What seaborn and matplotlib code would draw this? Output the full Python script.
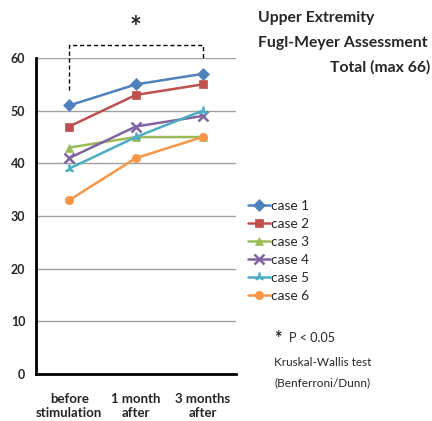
import pandas as pd
import seaborn as sns
import matplotlib.pyplot as plt
import numpy as np

# Data
timepoints = ['before\nstimulation', '1 month\nafter', '3 months\nafter']
cases = ['case 1', 'case 2', 'case 3', 'case 4', 'case 5', 'case 6']
case1 = [51, 55, 57]
case2 = [47, 53, 55]
case3 = [43, 45, 45]
case4 = [41, 47, 49]
case5 = [39, 45, 50]
case6 = [33, 41, 45]

colors = ['#4F81BD', '#C0504D', '#9BBB59', '#8064A2', '#4BACC6', '#F79646']
markers = ['D', 's', '^', 'x', '2', 'o']

rows = []
for name, vals in zip(cases, [case1, case2, case3, case4, case5, case6]):
    for i, v in enumerate(vals):
        rows.append({'case': name, 'pos': i, 'score': v})
df = pd.DataFrame(rows)

sns.set_style('white')
plt.rcParams['font.family'] = ['Lato', 'DejaVu Sans']

fig = plt.figure(figsize=(4.32, 4.21), dpi=100)
ax = fig.add_axes([0.083, 0.112, 0.463, 0.750])

# one call per case so filled and line-art markers can be mixed
for name, col, mk in zip(cases, colors, markers):
    sub = df[df['case'] == name]
    line_marker = mk in ('x', '2')
    sns.lineplot(data=sub, x='pos', y='score', color=col, marker=mk,
                 linewidth=1.8, markersize=7 if line_marker else 6,
                 markeredgewidth=1.8 if line_marker else 0.5,
                 markeredgecolor=col, label=name, ax=ax)

ax.set_xlim(-0.5, 2.5)
ax.set_ylim(0, 60)
ax.set_yticks(range(0, 61, 10))
ax.set_yticklabels([str(v) for v in range(0, 61, 10)], fontweight='bold', fontsize=9)
ax.yaxis.grid(True, color='#a0a0a0', linewidth=1)
ax.set_axisbelow(True)

# category boundaries as tick marks, labels centred on categories
ax.set_xticks([-0.5, 0.5, 1.5, 2.5])
ax.set_xticklabels([])
ax.set_xticks([0, 1, 2], minor=True)
ax.set_xticklabels(timepoints, minor=True, fontweight='bold', fontsize=9.5)
ax.tick_params(axis='x', which='minor', length=0, pad=14)
ax.tick_params(axis='both', which='major', direction='out', length=4, width=1.5, color='black')
ax.set_xlabel('')
ax.set_ylabel('')

for s in ['top', 'right']:
    ax.spines[s].set_visible(False)
for s in ['left', 'bottom']:
    ax.spines[s].set_color('black')
    ax.spines[s].set_linewidth(2)

# significance bracket
ax.plot([0, 0, 2, 2], [54, 62.4, 62.4, 60], color='black', linestyle=(0, (3, 2)),
        linewidth=1, clip_on=False)
ax.text(1, 63.2, '*', ha='center', va='bottom', fontsize=20, fontweight='bold')

# legend
handles, labels = ax.get_legend_handles_labels()
ax.legend(handles, labels, loc='upper left', bbox_to_anchor=(0.558, 0.541),
          bbox_transform=fig.transFigure, frameon=False, fontsize=9.8,
          handlelength=1.6, handletextpad=0.1, labelspacing=0.44, borderpad=0)

# title on the right
fig.text(0.597, 0.957, 'Upper Extremity', ha='left', va='center', fontsize=11.3, fontweight='bold')
fig.text(0.597, 0.898, 'Fugl-Meyer Assessment', ha='left', va='center', fontsize=11.3, fontweight='bold')
fig.text(0.995, 0.841, 'Total (max 66)', ha='right', va='center', fontsize=11.3, fontweight='bold')

# stats note
fig.text(0.635, 0.195, '*', ha='left', va='center', fontsize=13, fontweight='bold')
fig.text(0.668, 0.198, 'P < 0.05', ha='left', va='center', fontsize=9)
fig.text(0.635, 0.138, 'Kruskal-Wallis test', ha='left', va='center', fontsize=8.5)
fig.text(0.635, 0.090, '(Benferroni/Dunn)', ha='left', va='center', fontsize=8.5)

fig.savefig('out.png', dpi=100)
